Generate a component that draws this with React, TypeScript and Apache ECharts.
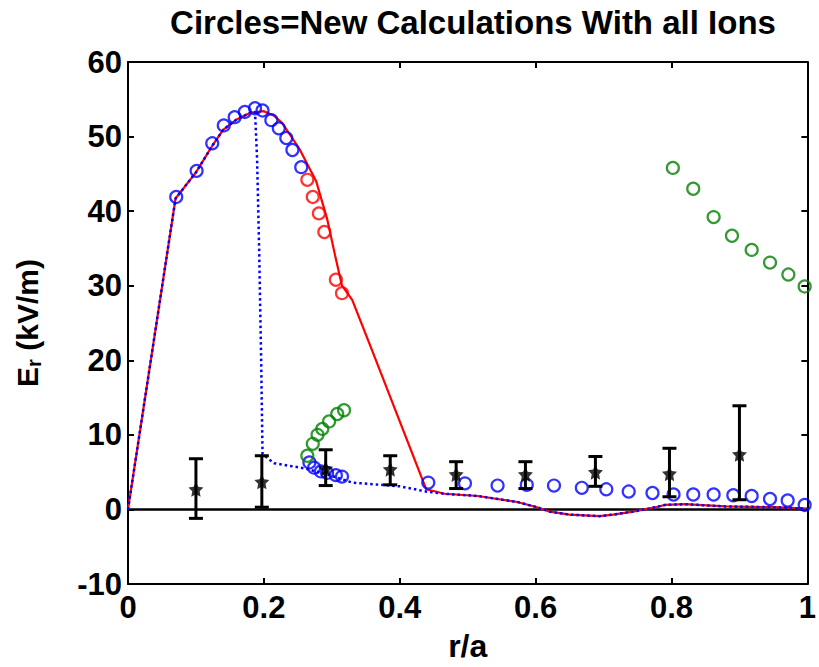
import React, { useEffect, useRef } from "react";
import * as echarts from "echarts";

const titleText = "Circles=New Calculations With all Ions";
const xTicks = { min: 0, max: 1, interval: 0.2 };
const yTicks = { min: -10, max: 60, interval: 10 };

const redLine: number[][] = [
  [0, 0], [0.07, 41.7], [0.10, 45.2], [0.125, 48.9], [0.14, 50.9], [0.16, 52.3], [0.18, 53.2],
  [0.20, 53.4], [0.215, 52.8], [0.227, 51.8], [0.252, 48.4], [0.277, 44.0], [0.293, 39.0],
  [0.305, 34.0], [0.315, 30.0], [0.33, 28.1], [0.359, 21.4], [0.439, 2.7], [0.466, 2.1],
  [0.515, 1.8], [0.573, 1.0], [0.602, 0.3], [0.621, -0.3], [0.65, -0.7], [0.694, -0.9],
  [0.714, -0.7], [0.743, -0.3], [0.777, 0.3], [0.79, 0.6], [0.82, 0.7], [0.879, 0.4],
  [0.952, 0.3], [1, 0.1],
];

const blueDotted: number[][] = [
  [0, 0], [0.07, 41.7], [0.10, 45.2], [0.125, 48.9], [0.14, 50.9], [0.16, 52.3], [0.18, 53.2],
  [0.187, 53.3], [0.19, 47], [0.193, 35], [0.196, 20], [0.198, 7.4], [0.215, 6.2], [0.26, 5.5],
  [0.3, 4.5], [0.33, 3.6], [0.4, 3.1], [0.439, 2.4], [0.466, 2.1], [0.515, 1.8], [0.573, 1.0],
  [0.602, 0.3], [0.621, -0.3], [0.65, -0.7], [0.694, -0.9], [0.714, -0.7], [0.743, -0.3],
  [0.777, 0.3], [0.79, 0.6], [0.82, 0.7], [0.879, 0.4], [0.952, 0.3], [1, 0.1],
];

const blueCircles: number[][] = [
  [0.071, 41.9], [0.101, 45.4], [0.124, 49.1], [0.141, 51.5], [0.157, 52.6], [0.172, 53.3],
  [0.187, 53.8], [0.198, 53.5], [0.211, 52.2], [0.222, 51.1], [0.233, 49.8], [0.242, 48.2],
  [0.255, 45.9],
  [0.267, 6.3], [0.274, 5.6], [0.284, 5.1], [0.293, 4.9], [0.306, 4.6], [0.315, 4.4],
  [0.442, 3.6], [0.496, 3.5], [0.544, 3.2], [0.587, 3.3], [0.627, 3.2], [0.668, 2.9],
  [0.704, 2.7], [0.737, 2.4], [0.772, 2.2], [0.803, 2.0], [0.832, 2.0], [0.862, 2.0],
  [0.891, 1.9], [0.918, 1.8], [0.945, 1.4], [0.971, 1.2], [0.996, 0.6],
];

const redCircles: number[][] = [
  [0.264, 44.2], [0.272, 41.9], [0.281, 39.7], [0.289, 37.2], [0.306, 30.8], [0.315, 29.0],
];

const greenCircles: number[][] = [
  [0.264, 7.2], [0.272, 8.8], [0.279, 10.0], [0.286, 10.8], [0.296, 11.8], [0.308, 12.8], [0.318, 13.3],
  [0.802, 45.8], [0.832, 43.0], [0.862, 39.2], [0.889, 36.7], [0.918, 34.8], [0.945, 33.1],
  [0.972, 31.5], [0.996, 29.9],
];

// [x, y, low, high]
const measured: number[][] = [
  [0.1, 2.7, -1.2, 6.8], [0.197, 3.7, 0.3, 7.2], [0.291, 5.5, 3.2, 8.0], [0.386, 5.4, 3.3, 7.2],
  [0.483, 4.7, 2.8, 6.4], [0.585, 4.7, 2.8, 6.4], [0.688, 5.0, 3.1, 7.1], [0.797, 4.8, 1.7, 8.2],
  [0.9, 7.4, 1.3, 13.9],
];

const zeroLine: number[][] = [[0, 0], [1, 0]];

const FONT = "'Liberation Sans', Arial, sans-serif";
const STAR =
  "path://M0,-10 L2.9,-4 L9.5,-3.1 L4.7,1.5 L5.9,8.1 L0,5 L-5.9,8.1 L-4.7,1.5 L-9.5,-3.1 L-2.9,-4 Z";

export default function App() {
  const ref = useRef<HTMLDivElement>(null);
  useEffect(() => {
    document.body.style.margin = "0";
    const chart = echarts.init(ref.current!, null, { renderer: "svg" });
    const axisLine = { show: true, onZero: false, lineStyle: { color: "#000", width: 2 } };
    const tick = { show: true, inside: true, length: 6, lineStyle: { color: "#000", width: 2 } };
    const label = { color: "#000", fontFamily: FONT, fontWeight: "bold" as const, fontSize: 31 };
    const circle = (color: string) => ({
      type: "scatter" as const,
      symbol: "circle",
      symbolSize: 12,
      itemStyle: { color: "transparent", borderColor: color, borderWidth: 2.2 },
    });
    chart.setOption({
      animation: false,
      backgroundColor: "#fff",
      title: {
        text: titleText,
        left: 468,
        top: 1,
        textAlign: "center",
        textStyle: { color: "#000", fontFamily: FONT, fontWeight: "bold", fontSize: 33 },
      },
      grid: { left: 127, right: 6, top: 62, bottom: 82, containLabel: false },
      xAxis: [
        {
          type: "value", ...xTicks, position: "bottom",
          axisLine, axisTick: tick, splitLine: { show: false },
          axisLabel: { ...label, margin: 8 },
          name: "r/a", nameLocation: "middle", nameGap: 46,
          nameTextStyle: { ...label, fontSize: 32 },
        },
        {
          type: "value", ...xTicks, position: "top",
          axisLine, axisTick: tick, splitLine: { show: false }, axisLabel: { show: false },
        },
      ],
      yAxis: [
        {
          type: "value", ...yTicks, position: "left",
          axisLine, axisTick: tick, splitLine: { show: false },
          axisLabel: { ...label, margin: 6 },
          name: "{a|E}{s|r}{a| (kV/m)}", nameLocation: "middle", nameGap: 84, nameRotate: 90,
          nameTextStyle: {
            rich: {
              a: { ...label, fontSize: 30, lineHeight: 34 },
              s: { ...label, fontSize: 20, lineHeight: 34, verticalAlign: "bottom", padding: [16, 0, 0, 0] },
            },
          },
        },
        {
          type: "value", ...yTicks, position: "right",
          axisLine, axisTick: tick, splitLine: { show: false }, axisLabel: { show: false },
        },
      ],
      series: [
        {
          type: "line", data: zeroLine, symbol: "none",
          lineStyle: { color: "#000", width: 2.5 }, z: 1,
        },
        {
          type: "line", data: redLine, symbol: "none",
          lineStyle: { color: "#ff0000", width: 2.2 }, z: 2,
        },
        {
          type: "line", data: blueDotted, symbol: "none",
          lineStyle: { color: "#0000ff", width: 2.5, type: [2.5, 3] }, z: 3,
        },
        { ...circle("#0000ff"), data: blueCircles, z: 4 },
        { ...circle("#ff0000"), data: redCircles, z: 4 },
        { ...circle("#008000"), data: greenCircles, z: 4 },
        {
          type: "custom", z: 5,
          data: measured,
          renderItem: (params: any, api: any) => {
            const x = api.value(0);
            const lo = api.coord([x, api.value(2)]);
            const hi = api.coord([x, api.value(3)]);
            const w = 7;
            const st = { stroke: "#000", lineWidth: 3 };
            return {
              type: "group",
              children: [
                { type: "line", shape: { x1: lo[0], y1: lo[1], x2: hi[0], y2: hi[1] }, style: st },
                { type: "line", shape: { x1: lo[0] - w, y1: lo[1], x2: lo[0] + w, y2: lo[1] }, style: st },
                { type: "line", shape: { x1: hi[0] - w, y1: hi[1], x2: hi[0] + w, y2: hi[1] }, style: st },
              ],
            };
          },
        },
        {
          type: "scatter", z: 6,
          data: measured.map((d) => [d[0], d[1]]),
          symbol: STAR, symbolSize: 15,
          itemStyle: { color: "#000" },
        },
      ],
    });
    return () => chart.dispose();
  }, []);
  return <div ref={ref} style={{ position: "absolute", left: 0, top: 0, width: 819, height: 667 }} />;
}
